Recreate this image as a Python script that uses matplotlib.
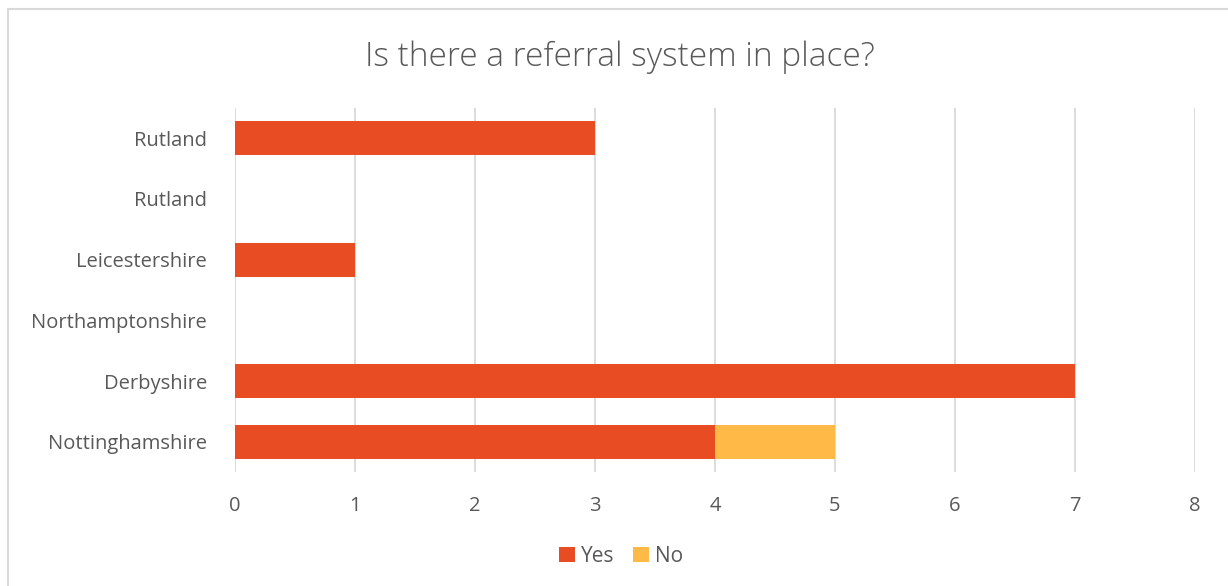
import matplotlib.pyplot as plt
from matplotlib.patches import Rectangle

regions = ["Nottinghamshire", "Derbyshire", "Northamptonshire", "Leicestershire", "Rutland", "Rutland"]
yes = [4, 7, 0, 1, 0, 3]
no = [1, 0, 0, 0, 0, 0]

yes_color = "#E84C22"
no_color = "#FFB946"
text_color = "#595959"

plt.rcParams['font.family'] = ['Open Sans', 'DejaVu Sans']

fig = plt.figure(figsize=(12.28, 5.86), dpi=100)
fig.patches.append(Rectangle((8 / 1228, -0.1), 1.2, 1 - 9 / 586 + 0.1,
                             transform=fig.transFigure, fill=False,
                             edgecolor="#D9D9D9", linewidth=1.5))

ax = fig.add_axes([235 / 1228, 1 - 472 / 586, 960 / 1228, 364 / 586])
pos = list(range(len(regions)))
ax.barh(pos, yes, height=0.56, color=yes_color, label="Yes", zorder=3)
ax.barh(pos, no, left=yes, height=0.56, color=no_color, label="No", zorder=3)

ax.set_xlim(0, 8)
ax.set_ylim(-0.5, len(regions) - 0.5)
ax.set_xticks(range(0, 9))
ax.set_yticks(pos)
ax.set_yticklabels(regions)
ax.grid(axis="x", color="#D9D9D9", linewidth=1.3, zorder=0)
for s in ax.spines.values():
    s.set_visible(False)
ax.tick_params(length=0, labelsize=14.5, colors=text_color)
ax.tick_params(axis="x", pad=17)
ax.tick_params(axis="y", pad=20)

fig.text(620 / 1228, 1 - 57 / 586, "Is there a referral system in place?",
         ha="center", va="center", fontsize=24, fontweight="light", color=text_color)

ax.legend(loc="center", bbox_to_anchor=(621 / 1228, 1 - 556 / 586),
          bbox_transform=fig.transFigure, ncol=2, frameon=False,
          fontsize=15, labelcolor=text_color, handlelength=0.75, handleheight=0.75,
          handletextpad=0.3, columnspacing=0.9)

fig.savefig("out.png", dpi=100)
